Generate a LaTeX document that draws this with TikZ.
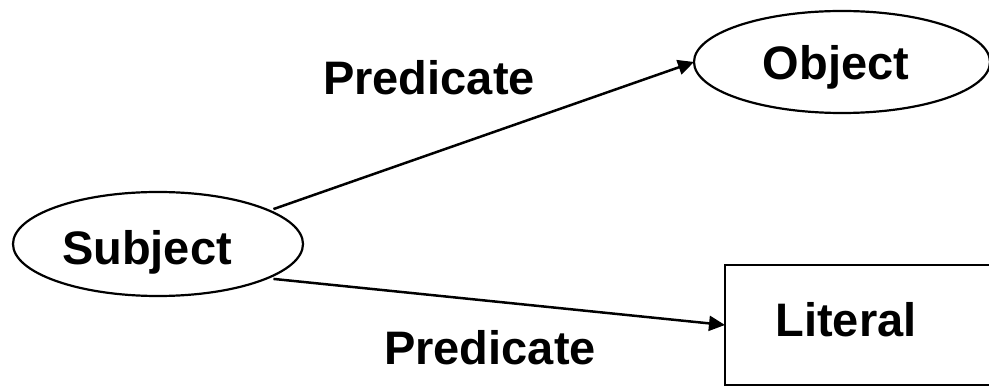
\documentclass[tikz,border=0pt]{standalone}
\usepackage{fontspec}
\setmainfont{Liberation Sans}
\usetikzlibrary{shapes.geometric,arrows.meta}
\begin{document}
\begin{tikzpicture}[x=1pt,y=-1pt,
  shapeline/.style={draw=black,line width=2.2pt,inner sep=0pt,outer sep=0pt},
  ellbox/.style={shapeline,ellipse},
  rectbox/.style={shapeline,rectangle},
  lbl/.style={font=\fontsize{47}{51}\selectfont\bfseries,inner sep=0pt,anchor=base},
  conn/.style={line width=2.5pt,-{Triangle[length=16pt,width=15pt]}}]
\useasboundingbox (0,0) rectangle (989,387);
\node[ellbox,minimum width=290pt,minimum height=104pt] (subj) at (158,244) {};
\node[ellbox,minimum width=296pt,minimum height=102pt] (obj) at (842,62) {};
\node[rectbox,minimum width=275pt,minimum height=120pt] (lit) at (862.5,325) {};
\node[lbl] (subjtxt) at (147,265) {Subject};
\node[lbl] (objtxt) at (836,80) {Object};
\node[lbl] (littxt) at (846,337) {Literal};
\node[lbl] (pred1) at (429,95) {Predicate};
\node[lbl] (pred2) at (490,365) {Predicate};
\draw[conn] ([xshift=8pt]subj.18) -- (obj.west);
\draw[conn] ([xshift=8pt]subj.-18) -- (lit.west);
\end{tikzpicture}
\end{document}
